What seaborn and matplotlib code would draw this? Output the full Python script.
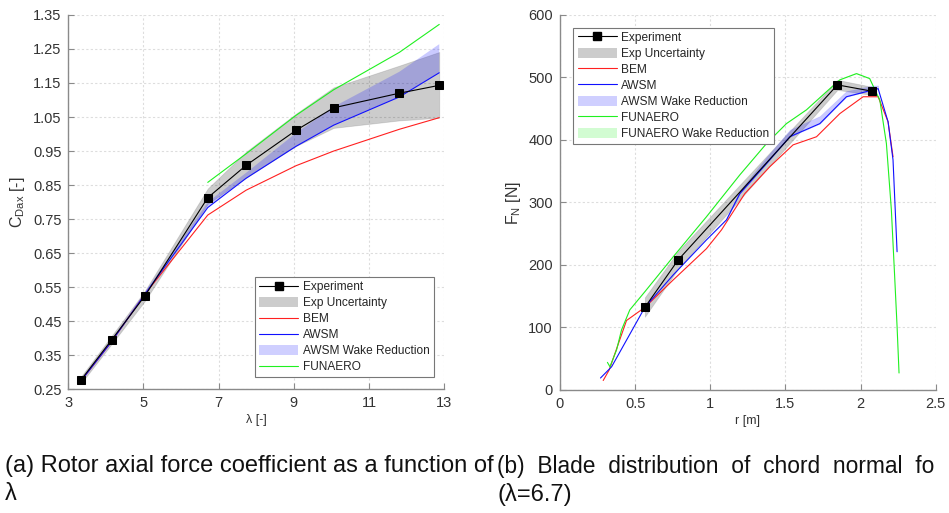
import numpy as np
import pandas as pd
import matplotlib
matplotlib.use("Agg")
import matplotlib.pyplot as plt
from matplotlib.lines import Line2D
from matplotlib.patches import Patch
import seaborn as sns

# ---------------- (a) rotor axial force coefficient vs tip speed ratio
lam_exp = [3.34, 4.15, 5.04, 6.71, 7.73, 9.06, 10.06, 11.81, 12.87]
cdax_exp = [0.278, 0.395, 0.525, 0.813, 0.908, 1.011, 1.077, 1.120, 1.143]
cdax_exp_lo = [0.268, 0.383, 0.510, 0.795, 0.872, 0.965, 1.018, 1.040, 1.048]
cdax_exp_hi = [0.288, 0.407, 0.540, 0.840, 0.948, 1.060, 1.137, 1.201, 1.241]
cdax_bem = [0.275, 0.390, 0.530, 0.762, 0.835, 0.907, 0.950, 1.014, 1.048]
cdax_awsm = [0.275, 0.390, 0.530, 0.784, 0.870, 0.964, 1.026, 1.109, 1.180]
cdax_awsm_wr = [0.280, 0.396, 0.536, 0.800, 0.886, 1.003, 1.080, 1.183, 1.264]
lam_fun = [6.71, 7.73, 9.06, 10.06, 11.81, 12.87]
cdax_fun = [0.858, 0.942, 1.055, 1.130, 1.240, 1.322]

# ---------------- (b) chord normal force along the blade
r_exp = [0.565, 0.787, 1.846, 2.074]
fn_exp = [132, 208, 488, 478]
fn_exp_lo = [117, 194, 480, 472]
fn_exp_hi = [148, 222, 496, 485]
r_bem = [0.288, 0.328, 0.443, 0.565, 0.754, 0.975, 1.075, 1.230, 1.396, 1.551,
         1.707, 1.862, 2.017, 2.117, 2.183, 2.216]
fn_bem = [15, 32, 111, 132, 176, 226, 256, 314, 357, 392, 405, 442, 469, 469, 429, 373]
r_awsm = [0.270, 0.344, 0.565, 0.754, 0.975, 1.108, 1.197, 1.374, 1.529, 1.729,
          1.906, 2.083, 2.117, 2.183, 2.216, 2.243]
fn_awsm = [19, 37, 132, 184, 240, 272, 314, 362, 405, 426, 469, 480, 482, 429, 368, 221]
r_awsm_wr = [1.108, 1.197, 1.374, 1.529, 1.729, 1.906, 2.083, 2.117]
fn_awsm_wr_lo = [272, 314, 362, 405, 426, 469, 480, 482]
fn_awsm_wr_hi = [273, 319, 372, 416, 438, 478, 487, 487]
r_fun = [0.316, 0.333, 0.377, 0.410, 0.465, 0.565, 0.754, 0.975, 1.197, 1.374,
         1.507, 1.640, 1.773, 1.862, 1.973, 2.061, 2.117, 2.128, 2.172, 2.205,
         2.227, 2.243, 2.256]
fn_fun = [44, 37, 64, 96, 128, 157, 213, 277, 344, 394, 426, 448, 477, 496, 506,
          498, 469, 464, 394, 288, 181, 101, 27]
fn_fun_wr = [45, 38, 65, 97, 129, 158, 214, 278, 345, 395, 427, 449, 478, 497, 507,
             499, 470, 465, 395, 289, 182, 102, 28]

RED, BLUE, GREEN = "#ff2020", "#1010ff", "#20f020"
BLACK = "#000000"

sns.set_theme(style="white")
plt.rcParams["font.family"] = ["Liberation Sans", "DejaVu Sans"]

fig = plt.figure(figsize=(9.49, 5.13), dpi=100)
axA = fig.add_axes([0.072, 0.241, 0.396, 0.730])
axB = fig.add_axes([0.590, 0.240, 0.396, 0.731])


def style_axes(ax):
    ax.grid(True, color="#dddddd", linestyle=(0, (2, 2)), linewidth=0.8)
    ax.set_axisbelow(True)
    for s in ("top", "right"):
        ax.spines[s].set_visible(False)
    for s in ("left", "bottom"):
        ax.spines[s].set_color("#8a8a8a")
        ax.spines[s].set_linewidth(1.0)
    ax.tick_params(direction="in", length=4, width=0.8, color="#8a8a8a",
                   labelsize=10.5, labelcolor="#333333", pad=5,
                   left=True, bottom=True)


def line(ax, x, y, color, lw=0.8, **kw):
    sns.lineplot(x=x, y=y, ax=ax, color=color, lw=lw, sort=False,
                 estimator=None, legend=False, **kw)


def experiment(ax, x, y):
    sns.lineplot(x=x, y=y, ax=ax, color=BLACK, lw=0.8, marker="s",
                 markersize=5.5, markeredgecolor=BLACK, sort=False,
                 estimator=None, legend=False, zorder=5)


# ---------- panel (a)
axA.fill_between(lam_exp, cdax_exp_lo, cdax_exp_hi, color=BLACK, alpha=0.2,
                 edgecolor="#555555", linewidth=0.6, zorder=2)
axA.fill_between(lam_exp, cdax_awsm, cdax_awsm_wr, color=BLUE, alpha=0.22,
                 edgecolor="none", zorder=3)
line(axA, lam_exp, cdax_bem, RED, zorder=4)
line(axA, lam_exp, cdax_awsm, BLUE, zorder=4)
line(axA, lam_fun, cdax_fun, GREEN, zorder=4)
experiment(axA, lam_exp, cdax_exp)

axA.set_xlim(3, 13)
axA.set_ylim(0.25, 1.35)
axA.set_xticks(np.arange(3, 13.1, 2))
yt = np.round(np.arange(0.25, 1.351, 0.1), 2)
axA.set_yticks(yt)
axA.set_yticklabels([f"{v:.2f}" for v in yt])
style_axes(axA)
axA.set_xlabel("λ [-]", fontsize=9, color="#333333", labelpad=3)
axA.set_ylabel(r"C$_{\mathregular{Dax}}$ [-]", fontsize=11.5, color="#333333",
               labelpad=4)

handlesA = [
    Line2D([], [], color=BLACK, lw=0.8, marker="s", markersize=5.5),
    Patch(facecolor=BLACK, alpha=0.2, edgecolor="none"),
    Line2D([], [], color=RED, lw=0.8),
    Line2D([], [], color=BLUE, lw=0.8),
    Patch(facecolor=BLUE, alpha=0.2, edgecolor="none"),
    Line2D([], [], color=GREEN, lw=0.8),
]
labelsA = ["Experiment", "Exp Uncertainty", "BEM", "AWSM",
           "AWSM Wake Reduction", "FUNAERO"]
leg_kw = dict(fontsize=8.6, frameon=True, fancybox=False, edgecolor="#777777",
              framealpha=1, borderpad=0.35, labelspacing=0.33, handlelength=3.3,
              handleheight=0.9, handletextpad=0.35, borderaxespad=0.0)
legA = axA.legend(handlesA, labelsA, loc="lower right",
                  bbox_to_anchor=(0.972, 0.032), **leg_kw)
legA.get_frame().set_linewidth(0.8)

# ---------- panel (b)
axB.fill_between(r_exp, fn_exp_lo, fn_exp_hi, color=BLACK, alpha=0.2,
                 edgecolor="#555555", linewidth=0.6, zorder=2)
axB.fill_between(r_awsm_wr, fn_awsm_wr_lo, fn_awsm_wr_hi, color=BLUE, alpha=0.22,
                 edgecolor="#6a6aff", linewidth=0.5, zorder=3)
axB.fill_between(r_fun, fn_fun, fn_fun_wr, color=GREEN, alpha=0.2,
                 edgecolor="none", zorder=3)
line(axB, r_bem, fn_bem, RED, zorder=4)
line(axB, r_awsm, fn_awsm, BLUE, zorder=4)
line(axB, r_fun, fn_fun, GREEN, zorder=4)
experiment(axB, r_exp, fn_exp)

axB.set_xlim(0, 2.5)
axB.set_ylim(0, 600)
axB.set_xticks([0, 0.5, 1, 1.5, 2, 2.5])
axB.set_xticklabels(["0", "0.5", "1", "1.5", "2", "2.5"])
axB.set_yticks(np.arange(0, 601, 100))
style_axes(axB)
axB.set_xlabel("r [m]", fontsize=9, color="#333333", labelpad=3)
axB.set_ylabel(r"F$_{\mathregular{N}}$ [N]", fontsize=11.5, color="#333333",
               labelpad=4)

handlesB = handlesA + [Patch(facecolor=GREEN, alpha=0.2, edgecolor="none")]
labelsB = labelsA + ["FUNAERO Wake Reduction"]
legB = axB.legend(handlesB, labelsB, loc="upper left",
                  bbox_to_anchor=(0.036, 0.966), **leg_kw)
legB.get_frame().set_linewidth(0.8)

# ---------- captions
cap_kw = dict(fontsize=17, va="center", ha="left", color="#111111")
fig.text(5 / 949, 1 - 466 / 513,
         "(a) Rotor axial force coefficient as a function of", **cap_kw)
fig.text(5 / 949, 1 - 494 / 513, "λ", **cap_kw)
fig.text(497 / 949, 1 - 466 / 513,
         "(b)  Blade  distribution  of  chord  normal  fo",
         **{**cap_kw, "fontsize": 16.4})
fig.text(497 / 949, 1 - 494 / 513, "(λ=6.7)", **cap_kw)

fig.savefig("out.png", dpi=100)
